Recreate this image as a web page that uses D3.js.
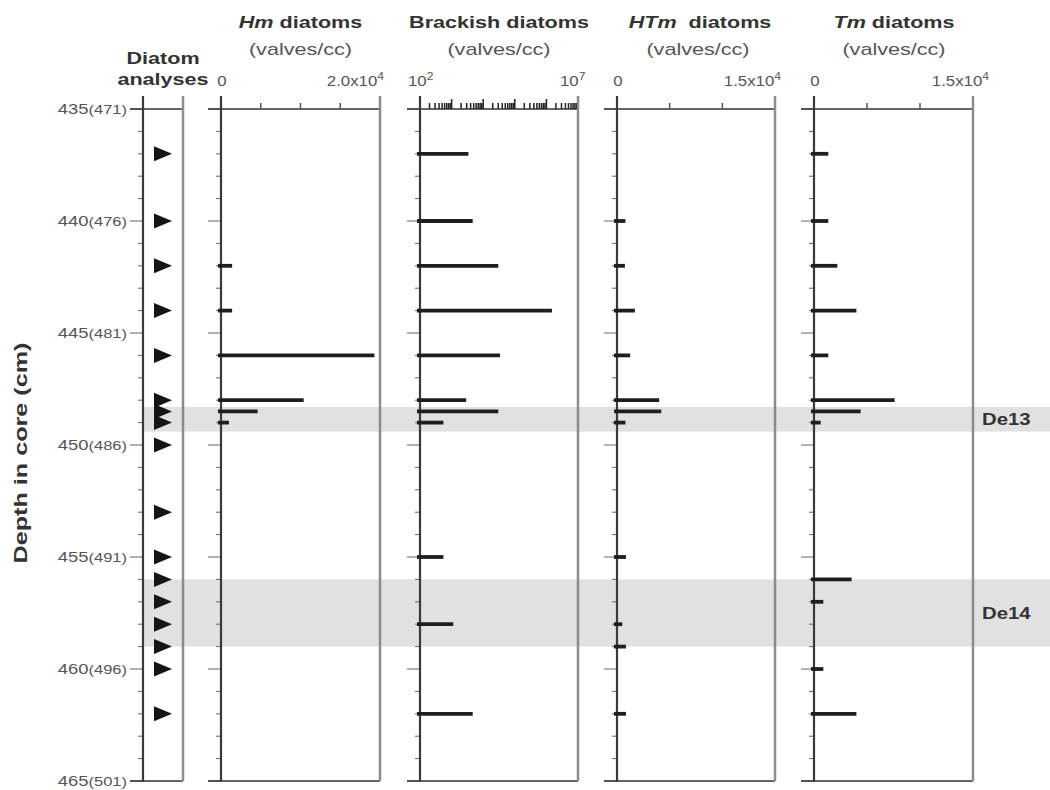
<!DOCTYPE html>
<html><head><meta charset="utf-8">
<script src="https://cdn.jsdelivr.net/npm/d3@7"></script>
<style>body{margin:0;background:#fff}svg{display:block}</style>
</head><body>
<svg id="c" width="1050" height="790"></svg>
<script>
// ---------------- data ----------------
const depths         = [437, 440, 442, 444, 446, 448, 448.5, 449, 450, 453, 455, 456, 457, 458, 459, 460, 462];
const hmValues       = [0, 0, 1400, 1400, 19300, 10400, 4600, 1000, 0, 0, 0, 0, 0, 0, 0, 0, 0];
const brackishValues = [3400, 4650, 30000, 1500000, 34000, 2900, 30000, 550, null, null, 550, null, null, 1130, null, null, 4650];
const htmValues      = [0, 800, 750, 1700, 1250, 4000, 4200, 800, 0, 0, 850, 0, 0, 500, 850, 0, 850];
const tmValues       = [1350, 1350, 2200, 4000, 1350, 7600, 4400, 630, 0, 0, 0, 3550, 880, 0, 0, 880, 4000];
const depthTicks     = [435, 440, 445, 450, 455, 460, 465];
const depthLabels    = ["435", "440", "445", "450", "455", "460", "465"];
const ageLabels      = ["(471)", "(476)", "(481)", "(486)", "(491)", "(496)", "(501)"];
const zoneNames      = ["De13", "De14"];
const zoneTops       = [448.3, 456];
const zoneBottoms    = [449.4, 459];

// ---------------- setup ----------------
const FONT = "'Liberation Sans', Arial, Helvetica, sans-serif";
const SX = 1.27;
const svg = d3.select("#c");
svg.append("rect").attr("width",1050).attr("height",790).attr("fill","#fff");

const y = d3.scaleLinear().domain([435, 465]).range([109, 781]);

function label(x, yy, parts, o = {}) {
  const size = o.size || 17;
  const t = svg.append("text")
    .attr("transform", `translate(${x},${yy}) rotate(${o.rotate || 0}) scale(${o.sx || SX},1)`)
    .attr("text-anchor", o.anchor || "start")
    .attr("font-family", FONT)
    .attr("font-size", size)
    .attr("font-weight", o.weight || "normal")
    .attr("fill", o.fill || "#333")
    .style("white-space", "pre");
  let shift = 0;
  parts.forEach(p => {
    const s = t.append("tspan").text(p.t);
    if (p.italic) s.attr("font-style", "italic");
    if (p.size) s.attr("font-size", p.size);
    if (p.sup) { s.attr("font-size", size * 0.72).attr("dy", -size * 0.45); shift = size * 0.45; }
    else if (shift) { s.attr("dy", shift); shift = 0; }
  });
  return t;
}

const panels = [
  {id: "diatom", x0: 143, x1: 183},
  {id: "hm", x0: 221, x1: 380, scale: d3.scaleLinear().domain([0, 20000]), values: hmValues,
   xticks: [0, 5000, 10000, 15000, 20000]},
  {id: "brackish", x0: 420, x1: 578, scale: d3.scaleLog().domain([1e2, 1e7]), values: brackishValues, log: true},
  {id: "htm", x0: 617, x1: 775, scale: d3.scaleLinear().domain([0, 15000]), values: htmValues,
   xticks: [0, 5000, 10000, 15000]},
  {id: "tm", x0: 814, x1: 973, scale: d3.scaleLinear().domain([0, 15000]), values: tmValues,
   xticks: [0, 5000, 10000, 15000]}
];
panels.forEach(p => { if (p.scale) p.scale.range([p.x0, p.x1]); });

// ---------------- zones ----------------
zoneNames.forEach((n, i) => {
  svg.append("rect")
    .attr("x", 143).attr("width", 1050 - 143)
    .attr("y", y(zoneTops[i])).attr("height", y(zoneBottoms[i]) - y(zoneTops[i]))
    .attr("fill", "#e1e1e1");
});

// ---------------- panels ----------------
const yMinor = d3.range(435, 466, 1);
const topY = y(435), botY = y(465);

panels.forEach(p => {
  const g = svg.append("g");
  g.selectAll("line.yt").data(yMinor).join("line")
    .attr("x1", d => p.x0 - (d % 5 === 0 ? 13 : 5)).attr("x2", p.x0)
    .attr("y1", d => y(d)).attr("y2", d => y(d))
    .attr("stroke", "#666").attr("stroke-width", 1);
  g.append("line").attr("x1", p.x0 - 13).attr("x2", p.x1).attr("y1", topY).attr("y2", topY)
    .attr("stroke", "#333").attr("stroke-width", 1.6);
  g.append("line").attr("x1", p.x0 - 13).attr("x2", p.x1).attr("y1", botY).attr("y2", botY)
    .attr("stroke", "#333").attr("stroke-width", 1.6);
  if (p.xticks) {
    g.selectAll("line.xt").data(p.xticks.slice(1, -1)).join("line")
      .attr("x1", d => p.scale(d)).attr("x2", d => p.scale(d))
      .attr("y1", topY - 6).attr("y2", topY)
      .attr("stroke", "#555").attr("stroke-width", 1.5);
  }
  if (p.log) {
    const lt = p.scale.ticks().filter(d => d > 1e2 && d < 1e7);
    g.selectAll("line.xt").data(lt).join("line")
      .attr("x1", d => p.scale(d)).attr("x2", d => p.scale(d))
      .attr("y1", d => topY - (Math.abs(Math.log10(d) - Math.round(Math.log10(d))) < 1e-9 ? 10 : 6))
      .attr("y2", topY)
      .attr("stroke", "#222").attr("stroke-width", 1.5);
  }
  g.append("line").attr("x1", p.x1).attr("x2", p.x1).attr("y1", topY - 13).attr("y2", botY)
    .attr("stroke", "#8c8c8c").attr("stroke-width", 2.5);
  g.append("line").attr("x1", p.x0).attr("x2", p.x0).attr("y1", topY - 13).attr("y2", botY + 0.8)
    .attr("stroke", "#3a3a3a").attr("stroke-width", 2.2);
  if (p.values) {
    const rows = depths.map((d, i) => ({d, v: p.values[i]}))
      .filter(r => r.v != null && r.v > (p.log ? 1e2 : 0));
    g.selectAll("line.bar").data(rows).join("line")
      .attr("x1", p.x0 - 3).attr("x2", r => p.scale(r.v))
      .attr("y1", r => y(r.d)).attr("y2", r => y(r.d))
      .attr("stroke", "#1e1e1e").attr("stroke-width", 3.8);
  }
});

// ---------------- sample markers ----------------
svg.selectAll("path.tri").data(depths).join("path")
  .attr("d", d => `M154,${y(d) - 7.5}L172,${y(d)}L154,${y(d) + 7.5}Z`)
  .attr("fill", "#151515");

// ---------------- depth labels ----------------
depthTicks.forEach((d, i) => {
  label(127, y(d) + 5, [{t: depthLabels[i]}, {t: ageLabels[i], size: 13}], {size: 14.5, anchor: "end", fill: "#555"});
});
label(27, 453, [{t: "Depth in core (cm)"}], {size: 18, sx: 1.4, weight: "bold", anchor: "middle", rotate: -90});

// ---------------- headers ----------------
label(163, 64, [{t: "Diatom"}], {weight: "bold", anchor: "middle"});
label(163, 85, [{t: "analyses"}], {weight: "bold", anchor: "middle"});

const hdrY1 = 28, hdrY2 = 55, tickY = 86;
label(300.5, hdrY1, [{t: "Hm", italic: true}, {t: " diatoms"}], {weight: "bold", anchor: "middle"});
label(300.5, hdrY2, [{t: "(valves/cc)"}], {anchor: "middle", fill: "#555"});
label(499, hdrY1, [{t: "Brackish diatoms"}], {weight: "bold", anchor: "middle"});
label(499, hdrY2, [{t: "(valves/cc)"}], {anchor: "middle", fill: "#555"});
label(700, hdrY1, [{t: "HTm", italic: true}, {t: "\u00a0\u00a0diatoms"}], {weight: "bold", anchor: "middle"});
label(698, hdrY2, [{t: "(valves/cc)"}], {anchor: "middle", fill: "#555"});
label(894, hdrY1, [{t: "Tm", italic: true}, {t: " diatoms"}], {weight: "bold", anchor: "middle"});
label(894, hdrY2, [{t: "(valves/cc)"}], {anchor: "middle", fill: "#555"});

const lab = {size: 14, fill: "#555", sx: 1.2};
label(panels[1].scale(0) + 1, tickY, [{t: "0"}], {...lab, anchor: "middle"});
label(panels[1].x1 + 4, tickY, [{t: "2.0x10"}, {t: "4", sup: true}], {...lab, anchor: "end"});
label(panels[2].x0 - 12, tickY, [{t: "10"}, {t: "2", sup: true}], {...lab});
label(panels[2].x1 - 18, tickY, [{t: "10"}, {t: "7", sup: true}], {...lab});
label(panels[3].scale(0) + 1, tickY, [{t: "0"}], {...lab, anchor: "middle"});
label(panels[3].x1 + 6, tickY, [{t: "1.5x10"}, {t: "4", sup: true}], {...lab, anchor: "end"});
label(panels[4].scale(0) + 1, tickY, [{t: "0"}], {...lab, anchor: "middle"});
label(panels[4].x1 + 16, tickY, [{t: "1.5x10"}, {t: "4", sup: true}], {...lab, anchor: "end"});

zoneNames.forEach((n, i) => {
  label(982, (y(zoneTops[i]) + y(zoneBottoms[i])) / 2 + 6, [{t: n}], {weight: "bold", size: 16});
});
</script>
</body></html>
